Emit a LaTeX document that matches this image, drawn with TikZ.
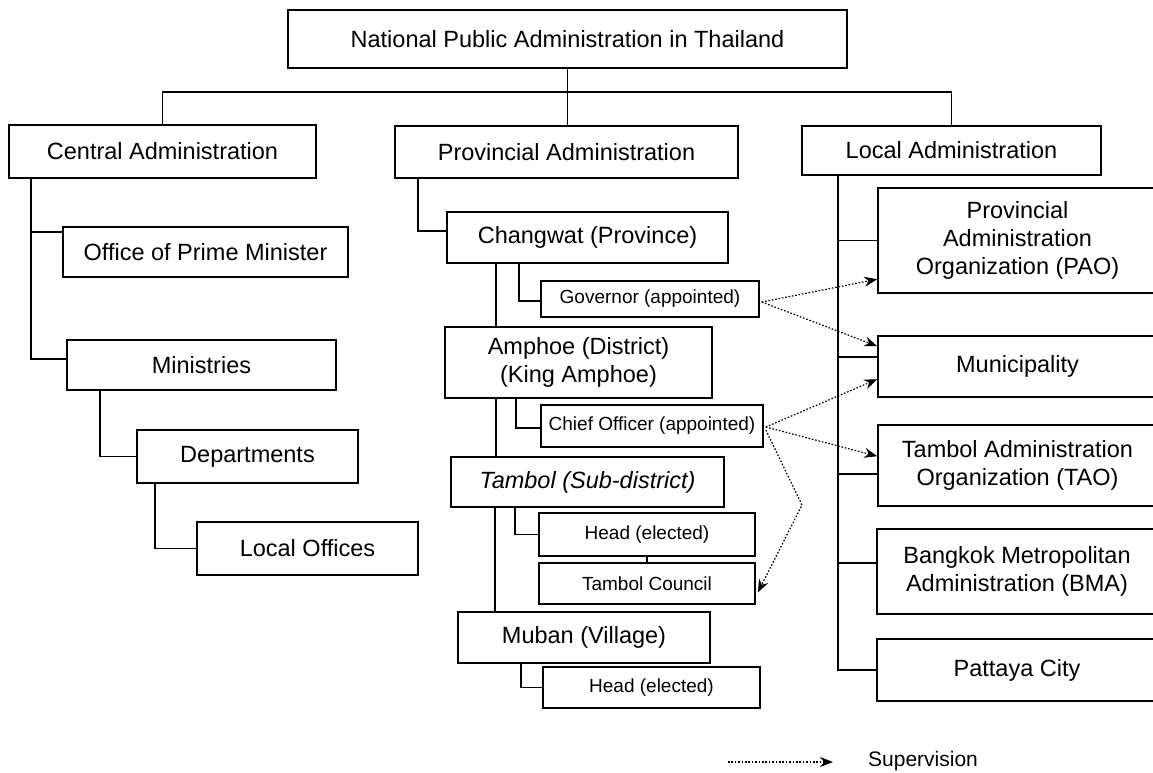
\documentclass[tikz,border=0pt]{standalone}
\usepackage{fontspec}
\setmainfont{Liberation Sans}
\usetikzlibrary{calc,arrows.meta}
\begin{document}
\begin{tikzpicture}[x=1pt,y=-1pt,
  box/.style={draw, line width=1.6pt, inner sep=0pt, align=center,
              font=\fontsize{23.5}{28}\selectfont},
  smallbox/.style={box, font=\fontsize{19}{23}\selectfont},
  link/.style={line width=1.6pt},
  superv/.style={line width=1.2pt, dash pattern=on 1.6pt off 1.8pt,
                 -{Stealth[length=13pt,width=10pt]}},
]
\clip (0,0) rectangle (1153,773);

% top level
\node[box, minimum width=559pt, minimum height=58pt] (top) at (567.5,39)
  {National Public Administration in Thailand};
\node[box, minimum width=307pt, minimum height=53pt] (central) at (162.5,151.5)
  {Central Administration};
\node[box, minimum width=343pt, minimum height=52pt] (provincial) at (566.5,152)
  {Provincial Administration};
\node[box, minimum width=299pt, minimum height=49pt] (local) at (951.5,150.5)
  {Local Administration};

% central branch
\node[box, minimum width=285pt, minimum height=50pt] (opm) at (205.5,252)
  {Office of Prime Minister};
\node[box, minimum width=269pt, minimum height=50pt] (ministries) at (201.5,365)
  {Ministries};
\node[box, minimum width=221pt, minimum height=53pt] (departments) at (247.5,456.5)
  {Departments};
\node[box, minimum width=221pt, minimum height=53pt] (localoffices) at (307.5,548.5)
  {Local Offices};

% provincial branch
\node[box, minimum width=281pt, minimum height=51pt] (changwat) at (587.5,237.5)
  {Changwat (Province)};
\node[smallbox, minimum width=218pt, minimum height=36pt] (governor) at (650,299)
  {Governor (appointed)};
\node[box, minimum width=267pt, minimum height=71pt] (amphoe) at (578.5,362.5)
  {Amphoe (District)\\(King Amphoe)};
\node[smallbox, minimum width=222pt, minimum height=42pt] (chief) at (652,426)
  {Chief Officer (appointed)};
\node[box, minimum width=273pt, minimum height=50pt] (tambol) at (587.5,482)
  {\itshape Tambol (Sub-district)};
\node[smallbox, minimum width=216pt, minimum height=43pt] (head1) at (647,534.5)
  {Head (elected)};
\node[smallbox, minimum width=216pt, minimum height=41pt] (council) at (647,583.5)
  {Tambol Council};
\node[box, minimum width=252pt, minimum height=51pt] (muban) at (584,637.5)
  {Muban (Village)};
\node[smallbox, minimum width=217pt, minimum height=41pt] (head2) at (651.5,687.5)
  {Head (elected)};

% local branch
\node[box, minimum width=279pt, minimum height=105pt] (pao) at (1017.5,240.5)
  {Provincial\\Administration\\Organization (PAO)};
\node[box, minimum width=279pt, minimum height=61pt] (muni) at (1017.5,366.5)
  {Municipality};
\node[box, minimum width=279pt, minimum height=81pt] (tao) at (1017.5,465.5)
  {Tambol Administration\\Organization (TAO)};
\node[box, minimum width=280pt, minimum height=85pt] (bma) at (1017,571.5)
  {Bangkok Metropolitan\\Administration (BMA)};
\node[box, minimum width=280pt, minimum height=62pt] (pattaya) at (1017,670)
  {Pattaya City};

% hierarchy lines: top level
\coordinate (bar) at (0,92);
\draw[link] (top.south) -- (top.south |- provincial.north);
\draw[link] (central.north) |- (bar -| local.north) -- (local.north);

% central branch
\coordinate (cA) at ($(central.south west)+(23,0)$);
\coordinate (opmB) at ($(opm.north west)+(0,6)$);
\coordinate (minB) at ($(ministries.north west)+(0,20)$);
\draw[link] (cA) |- (minB);
\draw[link] (opmB) -- (opmB -| cA);
\draw[link] ($(ministries.south west)+(34,0)$) |- (departments.west);
\draw[link] ($(departments.south west)+(19,0)$) |- (localoffices.west);

% provincial branch
\draw[link] ($(provincial.south west)+(24,0)$) |- ($(changwat.north west)+(0,20)$);
\coordinate (pA) at ($(changwat.south west)+(50,0)$);
\draw[link] (pA) -- (pA |- amphoe.north);
\draw[link] ($(changwat.south west)+(73,0)$) |- ($(governor.north west)+(0,21)$);
\coordinate (pB) at ($(amphoe.south west)+(52,0)$);
\draw[link] (pB) -- (pB |- tambol.north);
\draw[link] ($(amphoe.south west)+(72,0)$) |- ($(chief.west)+(0,2)$);
\coordinate (pC) at ($(tambol.south west)+(45,0)$);
\draw[link] (pC) -- (pC |- muban.north);
\draw[link] ($(tambol.south west)+(65,0)$) |- (head1.west);
\draw[link] (head1.south) -- (council.north);
\draw[link] ($(muban.south west)+(64,0)$) |- (head2.west);

% local branch
\coordinate (lA) at ($(local.south west)+(37,0)$);
\draw[link] (lA) |- (pattaya.west);
\draw[link] (pao.west) -- (pao.west -| lA);
\coordinate (muB) at ($(muni.north west)+(0,22)$);
\draw[link] (muB) -- (muB -| lA);
\coordinate (taB) at ($(tao.north west)+(0,50)$);
\draw[link] (taB) -- (taB -| lA);
\coordinate (bmB) at ($(bma.north west)+(0,35)$);
\draw[link] (bmB) -- (bmB -| lA);

% supervision
\coordinate (govOut) at ($(governor.east)+(2,3)$);
\coordinate (chiefOut) at ($(chief.east)+(2,1)$);
\coordinate (bend) at (802,505);
\draw[superv] (govOut) -- ($(pao.north west)+(0,92)$);
\draw[superv] (govOut) -- ($(muni.north west)+(0,11)$);
\draw[superv] (chiefOut) -- ($(muni.north west)+(0,44)$);
\draw[superv] (chiefOut) -- ($(tao.north west)+(0,32)$);
\draw[superv] ($(chief.east)+(2,4)$) -- (bend) -- ($(council.east)+(2,9)$);

% legend
\coordinate (legA) at (728,762);
\coordinate (legB) at (833,762);
\draw[superv] (legA) -- (legB);
\node[anchor=west, inner sep=0pt, font=\fontsize{21}{25}\selectfont] (legtext) at (868,761)
  {Supervision};
\end{tikzpicture}
\end{document}
